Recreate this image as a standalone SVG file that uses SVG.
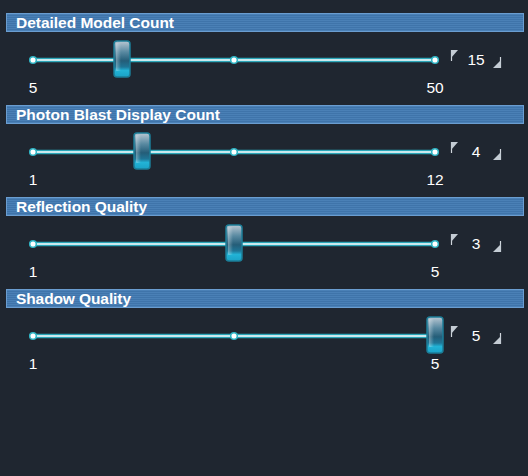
<svg xmlns="http://www.w3.org/2000/svg" width="528" height="476" viewBox="0 0 528 476">
<defs>
<pattern id="stripes" width="4" height="2" patternUnits="userSpaceOnUse">
<rect width="4" height="2" fill="#4a80b6"/>
<rect y="1" width="4" height="1" fill="#3f74aa"/>
</pattern>
<linearGradient id="thumbG" x1="0" y1="0" x2="0" y2="1">
<stop offset="0" stop-color="#b9c7d2"/>
<stop offset="0.3" stop-color="#5a8aa2"/>
<stop offset="0.55" stop-color="#245d78"/>
<stop offset="0.72" stop-color="#1f7596"/>
<stop offset="0.82" stop-color="#22b3d6"/>
<stop offset="1" stop-color="#1aa2c6"/>
</linearGradient>
<linearGradient id="thumbHi" x1="0" y1="0" x2="1" y2="0">
<stop offset="0" stop-color="#ffffff" stop-opacity="0.35"/>
<stop offset="1" stop-color="#ffffff" stop-opacity="0"/>
</linearGradient>
<g id="thumb">
<rect x="-8" y="0" width="16" height="36" rx="3" fill="url(#thumbG)" stroke="#1c7e98" stroke-width="1.5"/>
<rect x="-6" y="2" width="5" height="28" rx="1" fill="url(#thumbHi)"/>
</g>
<g id="dot"><circle r="3.3" fill="#ffffff" stroke="#2fb4c4" stroke-width="1.5"/></g>
<g id="brackets">
<line x1="451.5" y1="50" x2="451.5" y2="61" stroke="#d0d6dc" stroke-width="1.2"/>
<polygon points="451,50 458,50 451,58" fill="#c4ccd4"/>
<line x1="500.5" y1="57" x2="500.5" y2="68" stroke="#d0d6dc" stroke-width="1.2"/>
<polygon points="501,60 501,68 493,68" fill="#c4ccd4"/>
</g>
</defs>
<style>
.hdr{fill:url(#stripes);stroke:#6a9dd0;stroke-width:1}
.title{font-family:"Liberation Sans",Arial,sans-serif;font-weight:bold;font-size:15.5px;fill:#ffffff}
.num{font-family:"Liberation Sans",Arial,sans-serif;font-size:15.5px;fill:#ffffff;text-anchor:middle}
.trackGlow{stroke:#2ba6b8;stroke-width:4.5;stroke-linecap:round}
.trackCore{stroke:#ffffff;stroke-width:1.6;stroke-linecap:round}
</style>
<rect width="528" height="476" fill="#1f2630"/>

<g id="connectors">
<line class="trackGlow" x1="33" y1="60" x2="435" y2="60"/>
<line class="trackCore" x1="33" y1="60" x2="435" y2="60"/>
<line class="trackGlow" x1="33" y1="152" x2="435" y2="152"/>
<line class="trackCore" x1="33" y1="152" x2="435" y2="152"/>
<line class="trackGlow" x1="33" y1="244" x2="435" y2="244"/>
<line class="trackCore" x1="33" y1="244" x2="435" y2="244"/>
<line class="trackGlow" x1="33" y1="336" x2="435" y2="336"/>
<line class="trackCore" x1="33" y1="336" x2="435" y2="336"/>
</g>

<g id="detailed-model-count">
<rect class="hdr" x="6.5" y="13.5" width="517" height="18"/>
<text class="title" x="16" y="28" textLength="158">Detailed Model Count</text>
<use href="#dot" x="33" y="60"/><use href="#dot" x="234" y="60"/><use href="#dot" x="435" y="60"/>
<use href="#thumb" x="122" y="41"/>
<text class="num" x="33" y="93">5</text>
<text class="num" x="435" y="93">50</text>
<text class="num" x="476" y="65">15</text>
<use href="#brackets"/>
</g>

<g id="photon-blast-display-count">
<rect class="hdr" x="6.5" y="105.5" width="517" height="18"/>
<text class="title" x="16" y="120" textLength="204">Photon Blast Display Count</text>
<use href="#dot" x="33" y="152"/><use href="#dot" x="234" y="152"/><use href="#dot" x="435" y="152"/>
<use href="#thumb" x="142" y="133"/>
<text class="num" x="33" y="185">1</text>
<text class="num" x="435" y="185">12</text>
<text class="num" x="476" y="157">4</text>
<use href="#brackets" y="92"/>
</g>

<g id="reflection-quality">
<rect class="hdr" x="6.5" y="197.5" width="517" height="18"/>
<text class="title" x="16" y="212" textLength="131">Reflection Quality</text>
<use href="#dot" x="33" y="244"/><use href="#dot" x="435" y="244"/>
<use href="#thumb" x="234" y="225"/>
<text class="num" x="33" y="277">1</text>
<text class="num" x="435" y="277">5</text>
<text class="num" x="476" y="249">3</text>
<use href="#brackets" y="184"/>
</g>

<g id="shadow-quality">
<rect class="hdr" x="6.5" y="289.5" width="517" height="18"/>
<text class="title" x="16" y="304" textLength="115">Shadow Quality</text>
<use href="#dot" x="33" y="336"/><use href="#dot" x="234" y="336"/>
<use href="#thumb" x="435" y="317"/>
<text class="num" x="33" y="369">1</text>
<text class="num" x="435" y="369">5</text>
<text class="num" x="476" y="341">5</text>
<use href="#brackets" y="276"/>
</g>
</svg>
